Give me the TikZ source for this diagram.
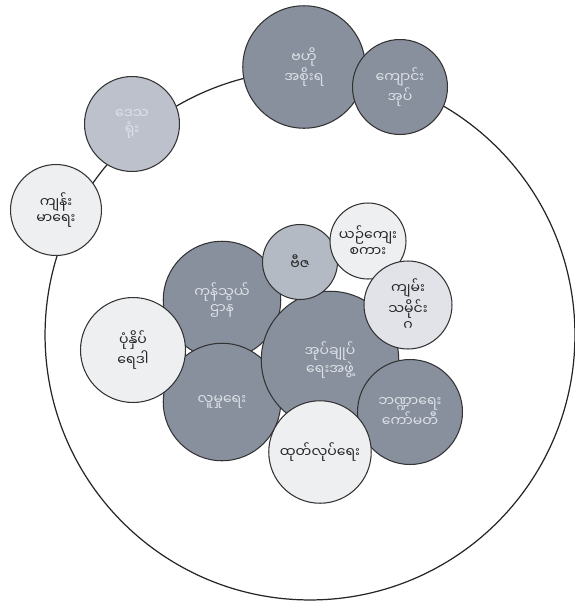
\documentclass[tikz,border=0pt]{standalone}
\usepackage{fontspec}
\newfontfamily\mmfont[Script=Myanmar]{Noto Sans Myanmar UI}
\usetikzlibrary{positioning}
\definecolor{darkbub}{RGB}{136,144,158}
\definecolor{lightbub}{RGB}{188,193,203}
\definecolor{paperbub}{RGB}{238,239,241}
\definecolor{softtext}{RGB}{222,226,232}

\begin{document}
\begin{tikzpicture}[x=0.02cm, y=-0.02cm,
    bub/.style={circle, draw=black!80, line width=0.6pt, align=center, inner sep=0pt, font=\mmfont\footnotesize},
    dark/.style={bub, fill=darkbub, text=softtext},
    light/.style={bub, fill=lightbub, text=softtext},
    paper/.style={bub, fill=paperbub, text=black!85},
  ]
  \useasboundingbox (0,0) rectangle (575,609);

  % outer ring
  \coordinate (ring) at (310,335);
  \draw[black!85, line width=0.7pt] (ring) circle[radius=5.3cm];

  % top group
  \node[dark, minimum size=2.45cm] (centre) at (304,67) {ဗဟို\\အစိုးရ};
  \node[dark, minimum size=1.9cm] (school) at (400,87) {ကျောင်း\\အုပ်};
  \node[light, minimum size=1.9cm] (region) at (132,124) {ဒေသ\\ရုံး};
  \node[paper, minimum size=1.82cm] (health) at (56,210) {ကျန်း\\မာရေး};

  % inner cluster, back layer
  \node[dark, minimum size=2.35cm] (trade) at (222,300) {ကုန်သွယ်\\ဌာန};
  \node[dark, minimum size=2.35cm] (social) at (222,402) {လူမှုရေး};
  \node[dark, minimum size=2.75cm] (admin) at (330,360) {အုပ်ချုပ်\\ရေးအဖွဲ့};
  \node[dark, minimum size=2.1cm] (finance) at (410,412) {ဘဏ္ဍာရေး\\ကော်မတီ};
  \node[light, minimum size=1.5cm, fill=lightbub!85!darkbub, text=black!85] (seed) at (300,262) {ဗီဇ};

  % inner cluster, front layer
  \node[paper, minimum size=1.52cm] (culture) at (368,241) {ယဉ်ကျေး\\စကား};
  \node[paper, minimum size=1.76cm, fill=lightbub!45, text=black!85] (history) at (408,305) {ကျမ်း\\သမိုင်း\\ဂ};
  \node[paper, minimum size=2.1cm] (print) at (133,350) {ပုံနှိပ်\\ရေဒါ};
  \node[paper, minimum size=2.05cm] (output) at (320,452) {ထုတ်လုပ်ရေး};
\end{tikzpicture}
\end{document}
